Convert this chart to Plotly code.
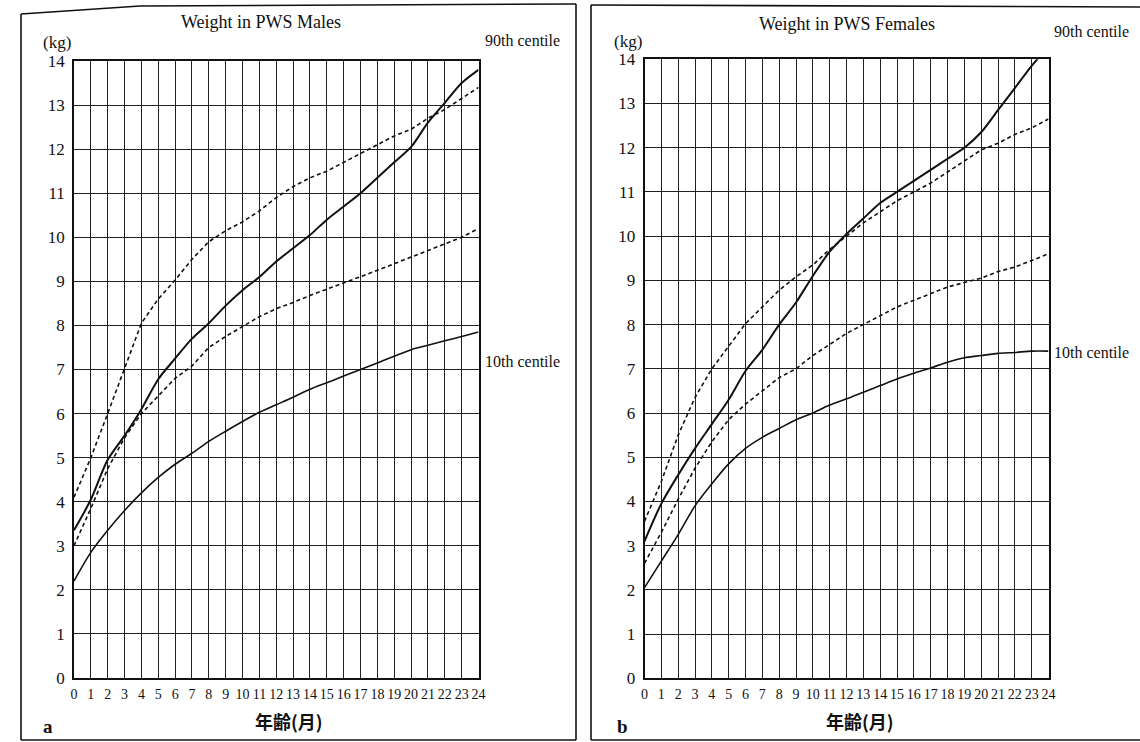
import plotly.graph_objects as go

# ---------------- data ----------------
months = list(range(25))
month_labels = [str(m) for m in months]
kg_ticks = list(range(15))

male_p90 = [3.35, 4.05, 4.95, 5.5, 6.1, 6.78, 7.25, 7.7, 8.05, 8.45, 8.8, 9.1, 9.45, 9.75, 10.05,
            10.4, 10.7, 11.0, 11.35, 11.7, 12.05, 12.6, 13.05, 13.5, 13.8]
male_p10 = [2.2, 2.85, 3.35, 3.8, 4.2, 4.55, 4.85, 5.1, 5.37, 5.6, 5.82, 6.03, 6.2, 6.37, 6.55,
            6.7, 6.85, 7.0, 7.15, 7.3, 7.45, 7.55, 7.65, 7.75, 7.85]
male_ref_hi = [4.1, 5.0, 6.0, 7.03, 8.05, 8.6, 9.03, 9.5, 9.9, 10.15, 10.35, 10.6, 10.9, 11.15, 11.35,
               11.5, 11.7, 11.9, 12.1, 12.3, 12.45, 12.7, 12.9, 13.15, 13.4]
male_ref_lo = [3.0, 3.85, 4.75, 5.45, 6.0, 6.4, 6.8, 7.08, 7.5, 7.75, 7.98, 8.2, 8.38, 8.52, 8.68,
               8.82, 8.97, 9.1, 9.25, 9.4, 9.55, 9.7, 9.85, 10.0, 10.2]

female_p90 = [3.1, 3.95, 4.6, 5.2, 5.75, 6.3, 6.95, 7.43, 8.0, 8.5, 9.1, 9.65, 10.05, 10.4, 10.75,
              11.0, 11.25, 11.5, 11.75, 12.0, 12.35, 12.85, 13.35, 13.85, 14.3]
female_p10 = [2.05, 2.65, 3.25, 3.9, 4.4, 4.85, 5.2, 5.45, 5.65, 5.85, 6.0, 6.18, 6.32, 6.47, 6.62,
              6.77, 6.9, 7.02, 7.15, 7.25, 7.3, 7.35, 7.37, 7.4, 7.4]
female_ref_hi = [3.55, 4.45, 5.5, 6.35, 7.0, 7.5, 8.02, 8.4, 8.78, 9.08, 9.35, 9.7, 10.0, 10.3, 10.55,
                 10.8, 11.0, 11.2, 11.45, 11.7, 11.95, 12.1, 12.3, 12.45, 12.65]
female_ref_lo = [2.6, 3.3, 4.05, 4.75, 5.35, 5.85, 6.2, 6.5, 6.8, 7.0, 7.3, 7.55, 7.8, 8.0, 8.2,
                 8.4, 8.55, 8.7, 8.85, 8.95, 9.05, 9.2, 9.3, 9.45, 9.6]

titles = ["Weight in PWS Males", "Weight in PWS Females"]
panel_letters = ["a", "b"]
x_title = "年齢(月)"
y_unit = "(kg)"
centile_labels = ["90th centile", "10th centile"]

W, H = 1140, 742
def px(x):
    return x / W
def py(y):
    return 1 - y / H

SERIF = "Liberation Serif, Times New Roman, serif"
CJK = "Noto Sans CJK JP"

fig = go.Figure()

panels = [
    dict(xa="x", ya="y", p90=male_p90, p10=male_p10, hi=male_ref_hi, lo=male_ref_lo,
         xdom=(74, 478.5), ydom=(678, 61)),
    dict(xa="x2", ya="y2", p90=female_p90, p10=female_p10, hi=female_ref_hi, lo=female_ref_lo,
         xdom=(644.5, 1048.5), ydom=(678.3, 59.3)),
]

for p in panels:
    for ys in (p["hi"], p["lo"]):
        fig.add_trace(go.Scatter(x=months, y=ys, xaxis=p["xa"], yaxis=p["ya"], mode="lines",
                                 line=dict(color="#111", width=1.6, dash="4px,3px"),
                                 showlegend=False, hoverinfo="skip"))
    fig.add_trace(go.Scatter(x=months, y=p["p90"], xaxis=p["xa"], yaxis=p["ya"], mode="lines",
                             line=dict(color="#111", width=2.0, shape="spline", smoothing=0.8),
                             showlegend=False, hoverinfo="skip"))
    fig.add_trace(go.Scatter(x=months, y=p["p10"], xaxis=p["xa"], yaxis=p["ya"], mode="lines",
                             line=dict(color="#111", width=1.6, shape="spline", smoothing=0.8),
                             showlegend=False, hoverinfo="skip"))

axis_common = dict(showgrid=True, gridcolor="#222", gridwidth=1.4, zeroline=False,
                   showline=True, linecolor="#111", linewidth=1.6, mirror=True, ticks="",
                   fixedrange=True, automargin=False)

layout_axes = {}
for i, p in enumerate(panels):
    sfx = "" if i == 0 else str(i + 1)
    layout_axes["xaxis" + sfx] = dict(
        axis_common, domain=[px(p["xdom"][0]), px(p["xdom"][1])], range=[0, 24],
        tickmode="array", tickvals=months, ticktext=month_labels,
        tickfont=dict(family=SERIF, size=14, color="#111"), ticklabelstandoff=2,
        anchor="y" + sfx)
    layout_axes["yaxis" + sfx] = dict(
        axis_common, domain=[py(p["ydom"][0]), py(p["ydom"][1])], range=[0, 14],
        tickmode="array", tickvals=kg_ticks, ticktext=[str(k) for k in kg_ticks],
        tickfont=dict(family=SERIF, size=17, color="#111"), ticklabelstandoff=4,
        anchor="x" + sfx)

annotations = []
title_pos = [(261, 22), (847, 24)]
kg_pos = [(57, 43), (628, 41)]
c90_pos = [(483, 40), (1052, 32)]
c10_pos = [(483, 362), (1052, 352)]
xt_pos = [(289, 721), (860, 721)]
letter_pos = [(48, 726), (622, 726)]
for i in range(2):
    annotations.append(dict(text=titles[i], x=px(title_pos[i][0]), y=py(title_pos[i][1]),
                            xref="paper", yref="paper", showarrow=False, xanchor="center", yanchor="middle",
                            font=dict(family=SERIF, size=18, color="#111")))
    annotations.append(dict(text=y_unit, x=px(kg_pos[i][0]), y=py(kg_pos[i][1]),
                            xref="paper", yref="paper", showarrow=False, xanchor="center", yanchor="middle",
                            font=dict(family=SERIF, size=17, color="#111")))
    annotations.append(dict(text=centile_labels[0], x=px(c90_pos[i][0]), y=py(c90_pos[i][1]),
                            xref="paper", yref="paper", showarrow=False, xanchor="left", yanchor="middle",
                            font=dict(family=SERIF, size=16, color="#111")))
    annotations.append(dict(text=centile_labels[1], x=px(c10_pos[i][0]), y=py(c10_pos[i][1]),
                            xref="paper", yref="paper", showarrow=False, xanchor="left", yanchor="middle",
                            font=dict(family=SERIF, size=16, color="#111")))
    annotations.append(dict(text="<b>" + x_title + "</b>", x=px(xt_pos[i][0]), y=py(xt_pos[i][1]),
                            xref="paper", yref="paper", showarrow=False, xanchor="center", yanchor="middle",
                            font=dict(family=CJK, size=18, color="#111")))
    annotations.append(dict(text="<b>" + panel_letters[i] + "</b>", x=px(letter_pos[i][0]), y=py(letter_pos[i][1]),
                            xref="paper", yref="paper", showarrow=False, xanchor="center", yanchor="middle",
                            font=dict(family=SERIF, size=19, color="#111")))

frame = dict(type="line", xref="paper", yref="paper", line=dict(color="#111", width=1.6))
shapes = [
    # left panel
    dict(frame, x0=px(21), y0=py(14), x1=px(21), y1=py(740)),
    dict(frame, x0=px(21), y0=py(14), x1=px(140), y1=py(6)),
    dict(frame, x0=px(140), y0=py(6), x1=px(576), y1=py(4)),
    dict(frame, x0=px(576), y0=py(4), x1=px(576), y1=py(740)),
    dict(frame, x0=px(21), y0=py(740), x1=px(576), y1=py(740)),
    # right panel
    dict(frame, x0=px(591), y0=py(5), x1=px(591), y1=py(740)),
    dict(frame, x0=px(591), y0=py(5), x1=px(1140), y1=py(7)),
    dict(frame, x0=px(591), y0=py(740), x1=px(1140), y1=py(740)),
]

fig.update_layout(width=W, height=H, margin=dict(l=0, r=0, t=0, b=0, autoexpand=False),
                  paper_bgcolor="white", plot_bgcolor="white",
                  annotations=annotations, shapes=shapes, **layout_axes)

fig.write_html("out.html", config={"displayModeBar": False},
               post_script="document.body.style.margin='0';")
